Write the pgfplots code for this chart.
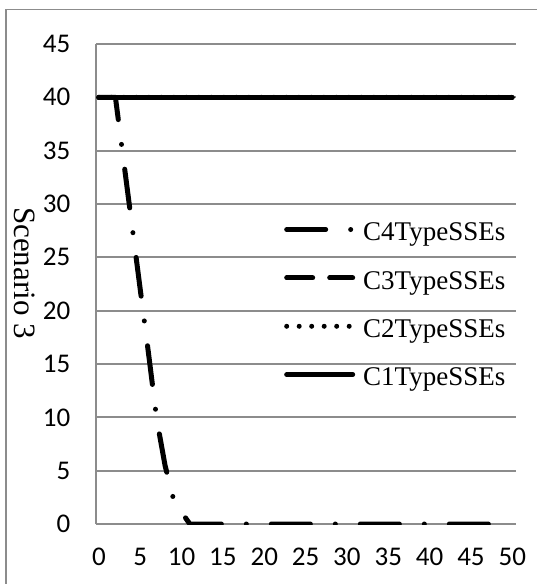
\documentclass[border=0pt]{standalone}
\usepackage{pgfplots}
\pgfplotsset{compat=1.18}
\usepackage{pgfplotstable}
\usepackage{fontspec}
\setmainfont{Liberation Serif}
\newfontfamily\calibri{Carlito}
\definecolor{gridgray}{RGB}{140,140,140}

\pgfplotstableread{
x c1 c2 c3 c4
0 40 40 40 40
1 40 40 40 40
2 40 40 40 40
3 40 40 40 34
4 40 40 40 28
5 40 40 40 22
6 40 40 40 16
7 40 40 40 9.8
8 40 40 40 5.5
9 40 40 40 2.4
10 40 40 40 1.1
11 40 40 40 0
12 40 40 40 0
13 40 40 40 0
14 40 40 40 0
15 40 40 40 0
16 40 40 40 0
17 40 40 40 0
18 40 40 40 0
19 40 40 40 0
20 40 40 40 0
21 40 40 40 0
22 40 40 40 0
23 40 40 40 0
24 40 40 40 0
25 40 40 40 0
26 40 40 40 0
27 40 40 40 0
28 40 40 40 0
29 40 40 40 0
30 40 40 40 0
31 40 40 40 0
32 40 40 40 0
33 40 40 40 0
34 40 40 40 0
35 40 40 40 0
36 40 40 40 0
37 40 40 40 0
38 40 40 40 0
39 40 40 40 0
40 40 40 40 0
41 40 40 40 0
42 40 40 40 0
43 40 40 40 0
44 40 40 40 0
45 40 40 40 0
46 40 40 40 0
47 40 40 40 0
48 40 40 40 0
49 40 40 40 0
50 40 40 40 0
}\datatable

\begin{document}
\begin{tikzpicture}
\useasboundingbox (-96pt,-60pt) rectangle (441pt,524pt);
\draw[gridgray, line width=1.5pt] (-90pt,-80pt) -- (-90pt,514.5pt) -- (460pt,514.5pt);
\begin{axis}[
  at={(0pt,0pt)}, anchor=south west,
  scale only axis, width=420pt, height=480pt,
  xmin=-0.35, xmax=50.45, ymin=0, ymax=45,
  xtick={0,5,...,50}, ytick={0,5,...,45},
  axis x line=bottom, axis y line=left,
  axis line style={-, gridgray, line width=2.5pt},
  major tick length=0pt,
  ymajorgrids, grid style={gridgray, line width=2pt},
  /pgf/number format/assume math mode=true,
  tick label style={font=\calibri\fontsize{27}{32}\selectfont},
  yticklabel style={anchor=east, inner sep=0pt, xshift=-25.5pt},
  xticklabel style={anchor=north, inner sep=0pt, yshift=-24pt},
  ylabel={Scenario 3},
  ylabel style={rotate=180, at={(axis description cs:-0.171,0.523)}, anchor=center, font=\fontsize{31}{35}\selectfont, inner sep=0pt},
  legend cell align=left,
  reverse legend,
  legend image code/.code={\draw[#1] (0pt,0.3em) -- (66pt,0.3em);},
  legend style={draw=none, fill=none, at={(axis description cs:0.4476,0.632)}, anchor=north west,
    inner xsep=0pt, inner ysep=0pt, row sep=25pt, column sep=6pt,
    font=\fontsize{27}{32}\selectfont, nodes={inner sep=2pt}},
]
\addplot[black, solid, no markers, line width=5pt, line cap=round] table[x=x, y=c1] {\datatable};
\addlegendentry{C1TypeSSEs}
\addplot[black, no markers, line width=5pt, line cap=round, dash pattern=on 0pt off 12.5pt] table[x=x, y=c2] {\datatable};
\addlegendentry{C2TypeSSEs}
\addplot[black, no markers, line width=5pt, line cap=round, dash pattern=on 26pt off 17pt] table[x=x, y=c3] {\datatable};
\addlegendentry{C3TypeSSEs}
\addplot[black, no markers, line width=5pt, line cap=round, line join=round, dash pattern=on 39pt off 25pt on 0pt off 25pt] table[x=x, y=c4] {\datatable};
\addlegendentry{C4TypeSSEs}
\end{axis}
\end{tikzpicture}
\end{document}
